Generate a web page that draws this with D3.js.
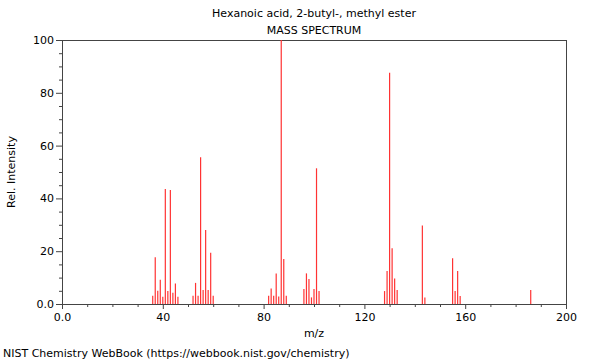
<!DOCTYPE html>
<html>
<head>
<meta charset="utf-8">
<script src="https://cdn.jsdelivr.net/npm/d3@7"></script>
<style>
  body { margin: 0; background: #fff; }
  text { font-family: "DejaVu Sans", sans-serif; fill: #000; }
</style>
</head>
<body>
<div id="chart"></div>
<script>
// peaks
const mzValues = [36, 37, 38, 39, 40, 41, 42, 43, 44, 45, 46,
  52, 53, 54, 55, 56, 57, 58, 59, 60,
  82, 83, 84, 85, 86, 87, 88, 89,
  96, 97, 98, 99, 100, 101, 102,
  128, 129, 130, 131, 132, 133,
  143, 144, 155, 156, 157, 158, 186];
const intensities = [3.1, 17.7, 5.0, 9.2, 2.7, 43.6, 4.9, 43.2, 4.3, 7.8, 2.7,
  3.1, 8.0, 3.1, 55.6, 5.3, 28.0, 5.3, 19.4, 3.1,
  3.1, 5.9, 3.1, 11.6, 2.8, 100, 17.0, 3.1,
  5.7, 11.6, 9.5, 2.5, 5.7, 51.4, 4.9,
  4.9, 12.5, 87.6, 21.1, 9.7, 5.3,
  29.7, 2.5, 17.3, 4.9, 12.5, 3.0, 5.3];
const xTicks = [0, 40, 80, 120, 160, 200];
const yTicks = [0, 20, 40, 60, 80, 100];
const titleLines = ["Hexanoic acid, 2-butyl-, methyl ester", "MASS SPECTRUM"];

const width = 600, height = 360;
const margin = { top: 40, right: 34, bottom: 56, left: 62 };
const w = width - margin.left - margin.right;
const h = height - margin.top - margin.bottom;

const svg = d3.select("#chart").append("svg")
    .attr("width", width)
    .attr("height", height);

const x = d3.scaleLinear().domain([0, 200]).range([margin.left, margin.left + w]);
const y = d3.scaleLinear().domain([0, 100]).range([margin.top + h, margin.top]);

const fmt = d => d === 0 ? "0.0" : d3.format("d")(d);

// minor ticks
svg.append("g")
    .attr("transform", `translate(0,${margin.top + h})`)
    .call(d3.axisBottom(x).tickValues(d3.range(0, 201, 10).filter(v => v % 40)).tickSize(3).tickFormat(""))
    .call(g => g.select(".domain").remove())
    .selectAll("line").attr("stroke", "#444");
svg.append("g")
    .attr("transform", `translate(${margin.left},0)`)
    .call(d3.axisLeft(y).tickValues(d3.range(0, 101, 5).filter(v => v % 20)).tickSize(3).tickFormat(""))
    .call(g => g.select(".domain").remove())
    .selectAll("line").attr("stroke", "#444");

// major axes
const xAxis = svg.append("g")
    .attr("transform", `translate(0,${margin.top + h})`)
    .call(d3.axisBottom(x).tickValues(xTicks).tickSize(5).tickPadding(4).tickFormat(fmt));
const yAxis = svg.append("g")
    .attr("transform", `translate(${margin.left},0)`)
    .call(d3.axisLeft(y).tickValues(yTicks).tickSize(6).tickPadding(2).tickFormat(fmt));
[xAxis, yAxis].forEach(g => {
    g.select(".domain").remove();
    g.selectAll("line").attr("stroke", "#444");
    g.selectAll("text").style("font-size", "11px").style("font-family", "DejaVu Sans, sans-serif").attr("fill", "#000");
});

// frame
svg.append("rect")
    .attr("x", margin.left + 0.5)
    .attr("y", margin.top + 0.5)
    .attr("width", w)
    .attr("height", h)
    .attr("fill", "none")
    .attr("stroke", "#444");

// peaks
svg.append("g").selectAll("line")
    .data(mzValues)
    .join("line")
    .attr("x1", d => x(d))
    .attr("x2", d => x(d))
    .attr("y1", y(0))
    .attr("y2", (d, i) => y(intensities[i]))
    .attr("stroke", "#ff3333")
    .attr("stroke-width", 1.2);

// titles
svg.selectAll(".title")
    .data(titleLines)
    .join("text")
    .attr("class", "title")
    .attr("x", margin.left + w / 2)
    .attr("y", (d, i) => 17 + i * 17)
    .attr("text-anchor", "middle")
    .style("font-size", "11px")
    .text(d => d);

svg.append("text")
    .attr("x", margin.left + w / 2)
    .attr("y", 337)
    .attr("text-anchor", "middle")
    .style("font-size", "11px")
    .text("m/z");

svg.append("text")
    .attr("transform", `translate(15,${margin.top + h / 2}) rotate(-90)`)
    .attr("text-anchor", "middle")
    .style("font-size", "11px")
    .text("Rel. Intensity");

svg.append("text")
    .attr("x", 3)
    .attr("y", 357)
    .style("font-size", "11px")
    .text("NIST Chemistry WebBook (https://webbook.nist.gov/chemistry)");
</script>
</body>
</html>
